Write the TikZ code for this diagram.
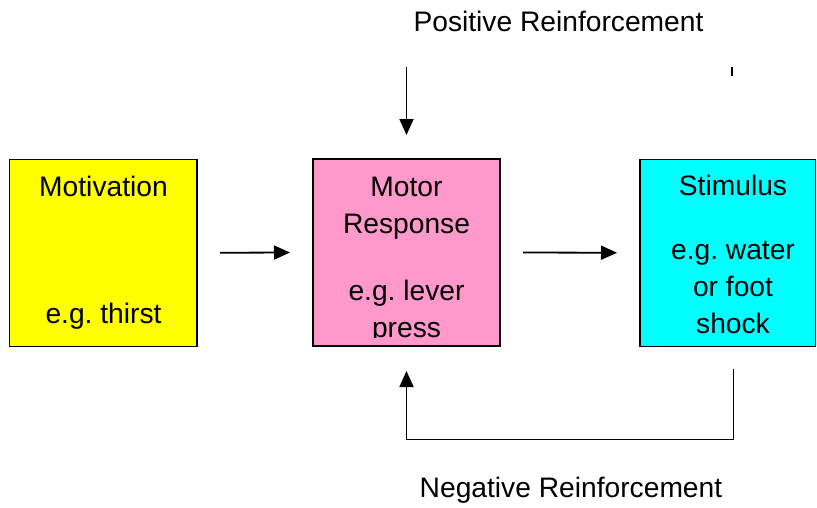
\documentclass[tikz,border=0pt]{standalone}
\usepackage{fontspec}
\setmainfont{Liberation Sans}
\usetikzlibrary{arrows.meta}
\definecolor{motyellow}{HTML}{FFFF00}
\definecolor{motpink}{HTML}{FF99CC}
\definecolor{stimcyan}{HTML}{00FFFF}
\frenchspacing
\begin{document}
\begin{tikzpicture}[x=1pt,y=-1pt,
  box/.style={draw=black, line width=1.4pt, inner sep=0pt, outer sep=0pt, minimum height=187pt},
  lbl/.style={anchor=base, inner sep=0pt, font=\fontsize{28.2}{34}\selectfont},
  arr/.style={line width=1.8pt, -{Triangle[length=16pt,width=14pt]}},
  plain/.style={line width=1.8pt}]
\useasboundingbox (0,0) rectangle (817,507);
% boxes
\node[box, fill=motyellow, minimum width=187.5pt] (mot) at (103.25,252.75) {};
\node[box, fill=motpink, minimum width=187pt] (motor) at (406.5,252.5) {};
\node[box, fill=stimcyan, minimum width=175.5pt] (stim) at (727.75,252.75) {};
% texts in boxes
\node[lbl] (t1) at (103.5,196) {Motivation};
\node[lbl] (t2) at (103.5,323.5) {e.g. thirst};
\node[lbl] (t3) at (406.5,196) {Motor};
\node[lbl] (t4) at (406.5,233) {Response};
\node[lbl] (t5) at (406.5,300) {e.g. lever};
\begin{scope}
  \clip (motor.north west) rectangle ([yshift=8.5pt]motor.south east);
  \node[lbl] (t6) at (406.5,337) {press};
\end{scope}
\node[lbl] (t7) at (733,195) {Stimulus};
\node[lbl] (t8) at (733,259.5) {e.g. water};
\node[lbl] (t9) at (733,296) {or foot};
\node[lbl] (t10) at (733,333) {shock};
% outer labels
\node[lbl] (pos) at (558.5,31.5) {Positive Reinforcement};
\node[lbl] (neg) at (571,497) {Negative Reinforcement};
% connectors
\draw[arr] ([xshift=23pt]mot.east) -- ([xshift=-23pt]motor.west);
\draw[arr] ([xshift=23pt]motor.east) -- ([xshift=-23pt]stim.west);
\coordinate (ptop) at (406.5,67);
\draw[arr] (ptop) -- ([yshift=24pt]motor.north);
\coordinate (tickA) at (732,67);
\coordinate (tickB) at (732,76);
\draw[plain] (tickA) -- (tickB);
\coordinate (nstart) at (733.5,369);
\coordinate (nbottom) at (733.5,439.5);
\draw[arr] (nstart) -- (nbottom) -| ([yshift=-25pt]motor.south);
\end{tikzpicture}
\end{document}
